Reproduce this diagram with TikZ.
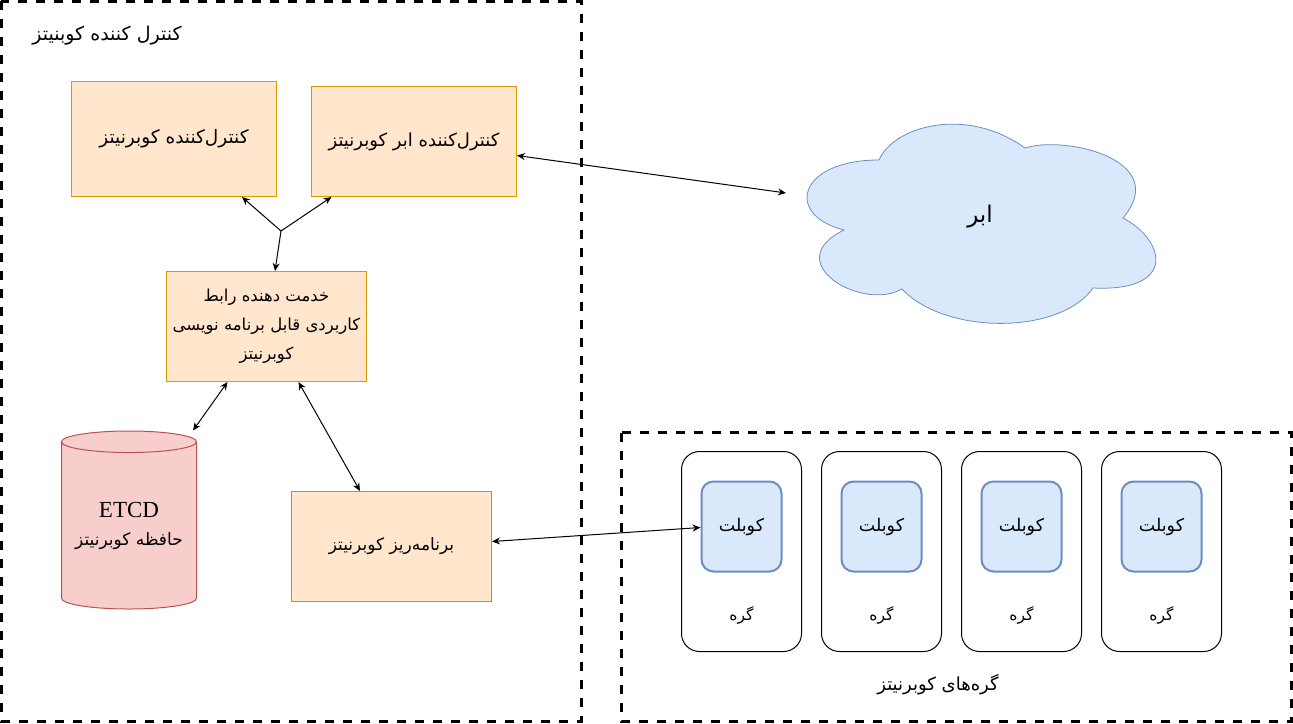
\documentclass[tikz,border=0pt]{standalone}
\usepackage{fontspec}
\setmainfont{Liberation Serif}
\newfontfamily\arabicfont[Script=Arabic]{DejaVu Sans}
\TeXXeTstate=1
\usetikzlibrary{arrows.meta,shapes.geometric}
\newcommand{\fa}[1]{{\arabicfont\beginR #1\endR}}
\definecolor{orangefill}{HTML}{FFE6CC}
\definecolor{orangeline}{HTML}{D79B00}
\definecolor{bluefill}{HTML}{DAE8FC}
\definecolor{blueline}{HTML}{6C8EBF}
\definecolor{redfill}{HTML}{F8CECC}
\definecolor{redline}{HTML}{B85450}
\tikzset{
	frame/.style={draw=black,line width=3pt,dash pattern=on 9pt off 9pt},
	compbox/.style={draw=orangeline,fill=orangefill,line width=1pt,minimum width=200pt,minimum height=110pt,inner sep=0pt,align=center,font=\fontsize{17}{29}\selectfont},
	nodebox/.style={draw=black,line width=1pt,rounded corners=18pt,minimum width=120pt,minimum height=200pt,inner sep=0pt},
	kubeletbox/.style={draw=blueline,fill=bluefill,line width=2pt,rounded corners=12pt,minimum width=80pt,minimum height=90pt,inner sep=0pt,font=\fontsize{17.5}{20}\selectfont},
	plain/.style={inner sep=0pt,font=\fontsize{18}{22}\selectfont},
	link/.style={black,line width=1pt,-{Stealth[length=8pt,width=7pt]}},
	dlink/.style={black,line width=1pt,{Stealth[length=8pt,width=7pt]}-{Stealth[length=8pt,width=7pt]}},
}
\begin{document}
\begin{tikzpicture}[x=1pt,y=-1pt]
	\useasboundingbox (0,0) rectangle (1293,723);
	% dashed frames
	\draw [frame] (1,1) rectangle (581,721);
	\draw [frame] (621.5,432.5) rectangle (1291.5,721);
	\node [plain,font=\fontsize{19}{22}\selectfont] (mastertitle) at (107,35.5) {\fa{کنترل کننده کوبنیتز}};
	\node [plain] (nodestitle) at (938,685) {\fa{گره‌های کوبرنیتز}};
	% control plane
	\node [compbox,minimum width=205pt,minimum height=115pt,font=\fontsize{18.5}{22}\selectfont] (kcm) at (174,139) {\fa{کنترل‌کننده کوبرنیتز}};
	\node [compbox,minimum width=205pt,font=\fontsize{18}{22}\selectfont] (ccm) at (414,141.5) {\fa{کنترل‌کننده ابر کوبرنیتز}};
	\node [compbox,font=\fontsize{16.5}{29}\selectfont] (api) at (266.5,326.5) {\fa{خدمت دهنده رابط}\\\fa{کاربردی قابل برنامه نویسی}\\\fa{کوبرنیتز}};
	\node [compbox,draw=orangeline!70!gray] (sched) at (391.5,546.5) {\fa{برنامه‌ریز کوبرنیتز}};
	\node [cylinder,shape border rotate=90,aspect=0.2,anchor=shape center,draw=redline,line width=1pt,cylinder uses custom fill,cylinder body fill=redfill,cylinder end fill=redfill,minimum width=135pt,minimum height=178pt,inner sep=0pt,align=center,font=\fontsize{17}{28}\selectfont] (etcd) at (129,520) {{\fontsize{23}{28}\selectfont ETCD}\\\fa{حافظه کوبرنیتز}};
	% cloud
	\draw [draw=blueline,fill=bluefill,line width=0.8pt]
		(879,160) .. controls (893,127) and (965,105) .. (1025,148)
		.. controls (1065,135) and (1172,160) .. (1123,218)
		.. controls (1165,240) and (1178,292) .. (1093,288)
		.. controls (1060,335) and (945,335) .. (902,289)
		.. controls (862,312) and (778,262) .. (844,230)
		.. controls (784,215) and (798,160) .. (879,160) -- cycle;
	\node [inner sep=0pt,font=\fontsize{23}{26}\selectfont] (cloud) at (980,217) {\fa{ابر}};
	\coordinate (cloudend) at (786,193);
	% worker nodes
	\foreach \i/\x in {1/741.5,2/881.5,3/1021.5,4/1161.5} {
		\node [nodebox] (worker\i) at (\x,551.5) {};
		\node [kubeletbox] (kubelet\i) at (\x,526.5) {\fa{کوبلت}};
		\node [plain,font=\fontsize{15.5}{18}\selectfont] (workerlabel\i) at (\x,615) {\fa{گره}};
	}
	% connectors
	\coordinate (fork) at (281,231);
	\draw [link] (fork) -- ([xshift=-35pt]kcm.south east);
	\draw [link] (fork) -- ([xshift=20.5pt,yshift=0pt]ccm.south west);
	\draw [link] (fork) -- ([xshift=8.5pt]api.north);
	\draw [dlink] ([yshift=-14pt]ccm.east) -- (cloudend);
	\draw [dlink] ([xshift=-39pt]api.south) -- ([xshift=64pt]etcd.north);
	\draw [dlink] ([xshift=32pt]api.south) -- ([xshift=-31.5pt]sched.north);
	\draw [dlink] ([yshift=5pt]sched.east) -- ([yshift=-1pt]kubelet1.west);
\end{tikzpicture}
\end{document}
